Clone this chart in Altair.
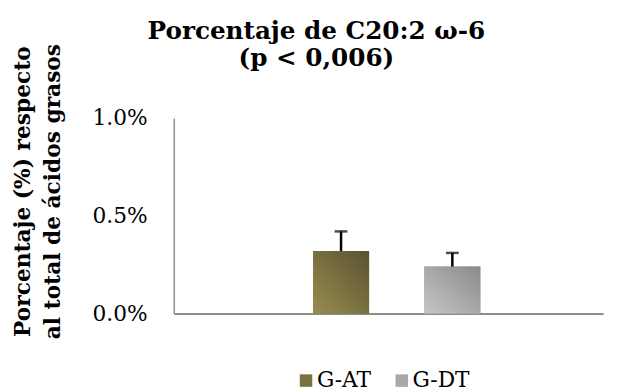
import altair as alt
import pandas as pd

groups = ["G-AT", "G-DT"]
means = [0.0032, 0.0024]
errors = [0.0010, 0.0007]
y_ticks = [0.0, 0.005, 0.01]
category = "C20:2 ω-6"

title_lines = ["Porcentaje de C20:2 ω-6", "(p < 0,006)"]
y_title = ["Porcentaje (%) respecto", "al total de ácidos grasos"]

solid = ["#7a7140", "#a9a9a9"]
grad_stops = [("#978d50", "#5a522f"), ("#c6c6c6", "#8a8a8a")]

df = pd.DataFrame({"grupo": groups, "media": means, "error": errors})
df["sup"] = df["media"] + df["error"]
df["cat"] = category

FONT = "DejaVu Serif"

x_enc = alt.X(
    "cat:N",
    scale=alt.Scale(paddingInner=0, paddingOuter=0.4624, align=0.54),
    axis=alt.Axis(title=None, labels=False, ticks=False, domainColor="#8c8c8c", domainWidth=2),
)
xo_enc = alt.XOffset(
    "grupo:N", scale=alt.Scale(domain=groups, paddingInner=0.496, paddingOuter=0.25)
)
y_enc = alt.Y(
    "media:Q",
    scale=alt.Scale(domain=[0, 0.01]),
    axis=alt.Axis(
        values=y_ticks,
        format=".1%",
        grid=False,
        ticks=False,
        labelPadding=27,
        labelFont=FONT,
        labelFontSize=22,
        labelColor="black",
        domainColor="#8c8c8c",
        domainWidth=1.5,
        title=y_title,
        titleFont=FONT,
        titleFontSize=22,
        titleFontWeight="bold",
        titleColor="black",
        titleAngle=270,
        titleAlign="center",
        titleBaseline="top",
        titleLineHeight=30,
        titleX=-163,
        titleY=74,
    ),
)

base = alt.Chart(df)

bars = base.mark_bar().encode(
    x=x_enc,
    xOffset=xo_enc,
    y=y_enc,
    color=alt.Color(
        "grupo:N",
        scale=alt.Scale(domain=groups, range=solid),
        legend=alt.Legend(
            title=None,
            orient="none",
            direction="horizontal",
            legendX=123,
            legendY=255,
            symbolType="square",
            symbolSize=160,
            symbolStrokeWidth=0,
            labelFont=FONT,
            labelFontSize=22,
            labelColor="black",
            labelOffset=0,
            columnPadding=20,
        ),
    ),
)

layers = [bars]
for g, (c0, c1) in zip(groups, grad_stops):
    grad = alt.Gradient(
        gradient="linear",
        stops=[alt.GradientStop(color=c0, offset=0), alt.GradientStop(color=c1, offset=1)],
        x1=0, y1=1, x2=1, y2=0,
    )
    layers.append(
        base.transform_filter(alt.datum.grupo == g)
        .mark_bar(color=grad)
        .encode(x=alt.X("cat:N"), xOffset=alt.XOffset("grupo:N"), y=alt.Y("media:Q"))
    )

err = base.mark_rule(color="black", strokeWidth=2.5).encode(
    x=alt.X("cat:N"), xOffset=alt.XOffset("grupo:N"), y=alt.Y("media:Q"), y2="sup:Q"
)
cap = base.mark_tick(color="black", thickness=2.5, size=13, orient="horizontal").encode(
    x=alt.X("cat:N"), xOffset=alt.XOffset("grupo:N"), y=alt.Y("sup:Q")
)
layers += [err, cap]

chart = (
    alt.layer(*layers)
    .properties(
        width=435,
        height=198,
        background="white",
        autosize=alt.AutoSizeParams(type="none"),
        padding={"left": 168, "top": 109, "right": 6, "bottom": 76},
        title=alt.Title(
            title_lines,
            font=FONT,
            fontSize=25,
            fontWeight="bold",
            color="black",
            anchor="middle",
            lineHeight=27,
            dx=-73,
            dy=32,
        ),
    )
    .configure_view(stroke="transparent", strokeWidth=0)
)

chart.save("out.html", embed_options={"renderer": "svg", "actions": False})
